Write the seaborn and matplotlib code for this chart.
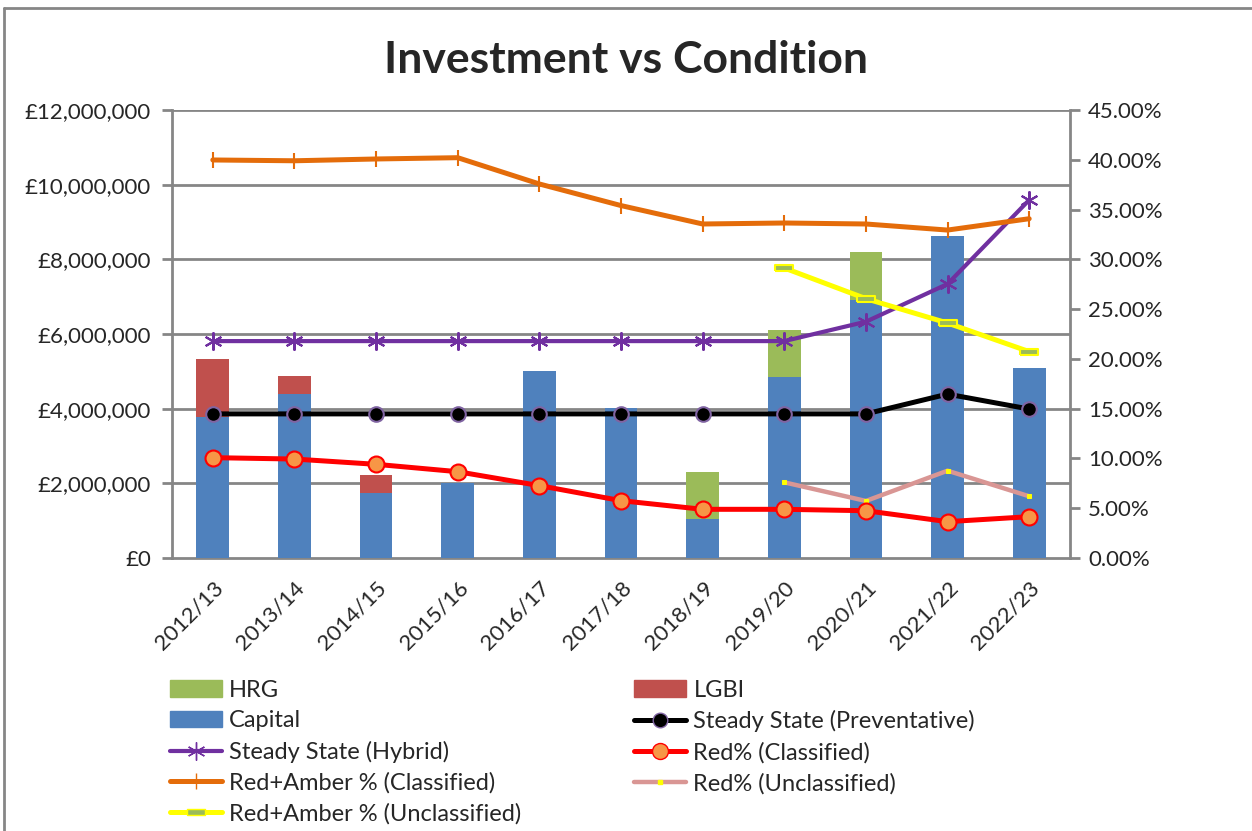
import matplotlib
matplotlib.use("Agg")
import matplotlib.pyplot as plt
import matplotlib.ticker as mticker
from matplotlib.lines import Line2D
from matplotlib.patches import Patch
import seaborn as sns
import numpy as np
import pandas as pd

# data
years = ["2012/13", "2013/14", "2014/15", "2015/16", "2016/17", "2017/18",
         "2018/19", "2019/20", "2020/21", "2021/22", "2022/23"]
capital = [3.77e6, 4.39e6, 1.74e6, 2.00e6, 5.01e6, 4.03e6, 1.05e6, 4.85e6, 6.91e6, 8.63e6, 5.09e6]
hrg = [0, 0, 0, 0, 0, 0, 1.26e6, 1.26e6, 1.29e6, 0, 0]
lgbi = [1.56e6, 0.48e6, 0.48e6, 0, 0, 0, 0, 0, 0, 0, 0]
steady_prev = [3.86e6, 3.86e6, 3.86e6, 3.86e6, 3.86e6, 3.86e6, 3.86e6, 3.86e6, 3.86e6, 4.39e6, 3.99e6]
steady_hybrid = [5.81e6, 5.81e6, 5.81e6, 5.81e6, 5.81e6, 5.81e6, 5.81e6, 5.81e6, 6.33e6, 7.34e6, 9.59e6]
red_cls = [10.08, 9.94, 9.41, 8.67, 7.27, 5.76, 4.89, 4.89, 4.75, 3.65, 4.15]
redamber_cls = [39.98, 39.90, 40.08, 40.21, 37.57, 35.40, 33.55, 33.65, 33.55, 32.94, 34.08]
red_uncls = [np.nan] * 7 + [7.60, 5.73, 8.77, 6.20]
redamber_uncls = [np.nan] * 7 + [29.13, 26.05, 23.60, 20.73]

sns.set_style("white")
plt.rcParams['font.family'] = ['Lato', 'DejaVu Sans']

fig = plt.figure(figsize=(12.52, 8.31), dpi=100)
ax = fig.add_axes([172 / 1252, 1 - 558 / 831, (1070 - 172) / 1252, (558 - 110) / 831])
ax2 = ax.twinx()

idx = np.arange(len(years))
df = pd.DataFrame({"i": idx, "capital": capital, "hrg": hrg, "lgbi": lgbi,
                   "prev": steady_prev, "hybrid": steady_hybrid,
                   "red_cls": red_cls, "ra_cls": redamber_cls,
                   "red_uncls": red_uncls, "ra_uncls": redamber_uncls})
df["cap_lgbi"] = df["capital"] + df["lgbi"]
df["cap_hrg"] = df["capital"] + df["hrg"]

grid_c = "#868686"
for v in np.arange(2e6, 12.01e6, 2e6):
    ax.axhline(v, color=grid_c, lw=2, zorder=0)

c_cap, c_lgbi, c_hrg = "#4F81BD", "#C0504D", "#9BBB59"
sns.barplot(data=df, x="i", y="cap_lgbi", color=c_lgbi, width=0.4, errorbar=None,
            saturation=1, linewidth=0, ax=ax, zorder=2)
sns.barplot(data=df, x="i", y="cap_hrg", color=c_hrg, width=0.4, errorbar=None,
            saturation=1, linewidth=0, ax=ax, zorder=2)
sns.barplot(data=df, x="i", y="capital", color=c_cap, width=0.4, errorbar=None,
            saturation=1, linewidth=0, ax=ax, zorder=3)

sns.lineplot(data=df, x="i", y="hybrid", color="#7030A0", lw=3, marker=(6, 2, 0),
             markersize=13, markeredgecolor="#7030A0", markeredgewidth=1.5, ax=ax, zorder=4)
sns.lineplot(data=df, x="i", y="prev", color="black", lw=3.6, marker="o",
             markersize=10.5, markerfacecolor="black", markeredgecolor="#8064A2",
             markeredgewidth=1.5, ax=ax, zorder=5)

sns.lineplot(data=df, x="i", y="ra_cls", color="#E46C0A", lw=3.6, marker="|",
             markersize=11, markeredgecolor="#E46C0A", markeredgewidth=1.5, ax=ax2, zorder=4)
sns.lineplot(data=df, x="i", y="red_cls", color="#FF0000", lw=3.6, marker="o",
             markersize=11.5, markerfacecolor="#F79646", markeredgecolor="#FF0000",
             markeredgewidth=1.5, ax=ax2, zorder=5)
sns.lineplot(data=df, x="i", y="red_uncls", color="#D99694", lw=3.2, marker="s",
             markersize=2.5, markerfacecolor="#FFFF00", markeredgecolor="#FFFF00", ax=ax2, zorder=4)
rect = [(-1, -0.35), (1, -0.35), (1, 0.35), (-1, 0.35), (-1, -0.35)]
sns.lineplot(data=df, x="i", y="ra_uncls", color="#FFFF00", lw=3.6, marker=rect,
             markersize=13, markerfacecolor="#9BBB59", markeredgecolor="#FFFF00",
             markeredgewidth=1.5, ax=ax2, zorder=4)

for a in (ax, ax2):
    if a.get_legend():
        a.get_legend().remove()
    a.set_xlabel("")
    a.set_ylabel("")
    a.set_xlim(-0.5, len(years) - 0.5)
    for s in a.spines.values():
        s.set_visible(False)

ax.set_ylim(0, 12e6)
ax2.set_ylim(0, 45)
ax.yaxis.set_major_locator(mticker.MultipleLocator(2e6))
ax.yaxis.set_major_formatter(mticker.FuncFormatter(lambda v, p: "£{:,.0f}".format(v)))
ax2.yaxis.set_major_locator(mticker.MultipleLocator(5))
ax2.yaxis.set_major_formatter(mticker.FuncFormatter(lambda v, p: "{:.2f}%".format(v)))

ax.spines["left"].set_visible(True)
ax.spines["bottom"].set_visible(True)
ax2.spines["right"].set_visible(True)
for s in (ax.spines["left"], ax.spines["bottom"], ax2.spines["right"]):
    s.set_color(grid_c)
    s.set_linewidth(2)

ax.set_xticks(idx)
ax.set_xticklabels(years, rotation=45, ha="right", rotation_mode="anchor", fontsize=16)
ax.set_xticks(np.arange(-0.5, len(years)), minor=True)
ax.tick_params(axis="x", which="major", length=0, pad=14)
ax.tick_params(axis="x", which="minor", length=7, width=2, color=grid_c, direction="out")
ax.tick_params(axis="y", length=7, width=2, color=grid_c, direction="out", labelsize=16, pad=8)
ax2.tick_params(axis="y", length=7, width=2, color=grid_c, direction="out", labelsize=16,
                pad=6, right=True)

fig.text(0.5, 1 - 60 / 831, "Investment vs Condition", ha="center", va="center",
         fontsize=32, fontweight="bold")

# chart border (top and left visible)
fig.add_artist(Line2D([4 / 1252, 1.0], [1 - 8 / 831, 1 - 8 / 831], color=grid_c, lw=2))
fig.add_artist(Line2D([4 / 1252, 4 / 1252], [0, 1 - 8 / 831], color=grid_c, lw=2))

handles = [
    Patch(color=c_hrg), Patch(color=c_cap),
    Line2D([], [], color="#7030A0", lw=3, marker=(6, 2, 0), markersize=13, markeredgecolor="#7030A0"),
    Line2D([], [], color="#E46C0A", lw=3.6, marker="|", markersize=11, markeredgecolor="#E46C0A"),
    Line2D([], [], color="#FFFF00", lw=3.6, marker=rect, markersize=13,
           markerfacecolor="#9BBB59", markeredgecolor="#FFFF00"),
    Patch(color=c_lgbi),
    Line2D([], [], color="black", lw=3.6, marker="o", markersize=10.5, markerfacecolor="black",
           markeredgecolor="#8064A2"),
    Line2D([], [], color="#FF0000", lw=3.6, marker="o", markersize=11.5, markerfacecolor="#F79646",
           markeredgecolor="#FF0000"),
    Line2D([], [], color="#D99694", lw=3.2, marker="s", markersize=2.5, markerfacecolor="#FFFF00",
           markeredgecolor="#FFFF00"),
]
labels = ["HRG", "Capital", "Steady State (Hybrid)", "Red+Amber % (Classified)",
          "Red+Amber % (Unclassified)", "LGBI", "Steady State (Preventative)",
          "Red% (Classified)", "Red% (Unclassified)"]
fig.legend(handles, labels, ncol=2, loc="upper left", bbox_to_anchor=(158 / 1252, 1 - 668 / 831),
           frameon=False, fontsize=17, handlelength=2.2, handletextpad=0.3,
           columnspacing=4.8, labelspacing=0.4, borderpad=0)

fig.savefig("out.png", dpi=100)
